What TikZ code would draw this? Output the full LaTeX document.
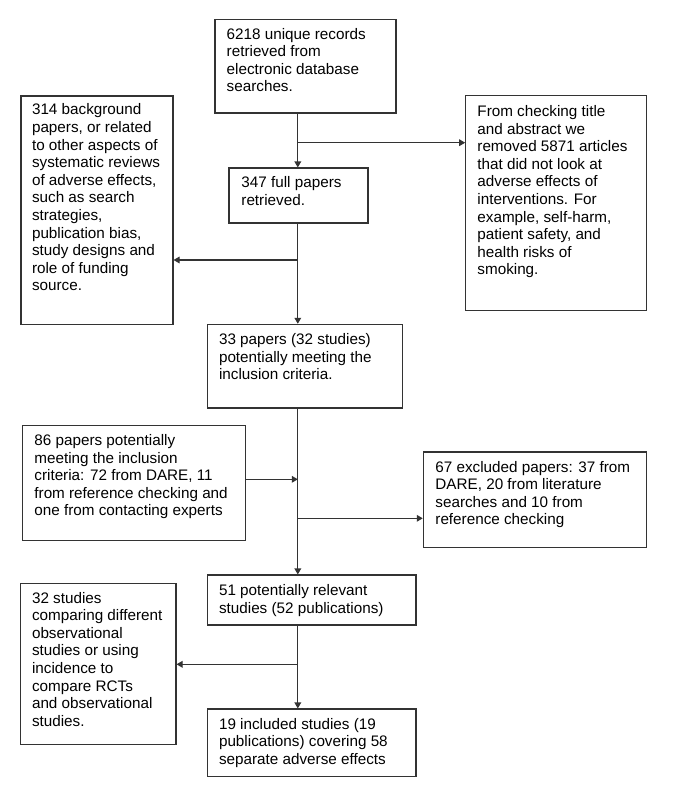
\documentclass[tikz,border=0pt]{standalone}
\usepackage{fontspec}
\setmainfont{Liberation Sans}
\usetikzlibrary{arrows.meta,fit}
\begin{document}
\begin{tikzpicture}[x=0.75pt,y=-0.75pt,
  box/.style={draw=black!80,line width=0.8pt,inner sep=0pt,rectangle},
  txt/.style={anchor=north west,inner sep=0pt,align=left,
    font=\fontsize{11.44pt}{13.2pt}\selectfont},
  link/.style={draw=black!80,line width=0.8pt},
  arr/.style={link,-{Triangle[length=4.5pt,width=5pt]}}]
\useasboundingbox[fill=white] (0,0) rectangle (672,800);
\newcommand{\fs}{\rule{0pt}{9.15pt}}
% boxes
\node[box,fit={(215,19.3) (396,113)}] (A) {};
\node[box,fit={(21,96) (173,324.3)}] (B) {};
\node[box,fit={(465.7,95.7) (646.7,310.7)}] (C) {};
\node[box,fit={(229,168) (368,223)}] (D) {};
\node[box,fit={(207.3,324.3) (402.3,408)}] (E) {};
\node[box,fit={(22.7,425.7) (245.7,540.7)}] (F) {};
\node[box,fit={(423.3,452) (646.7,547.7)}] (G) {};
\node[box,fit={(207.3,575) (416,625)}] (H) {};
\node[box,fit={(20.7,583.3) (176,744.3)}] (I) {};
\node[box,fit={(207.3,709) (416,776.7)}] (J) {};
% texts
\node[txt] (At) at ([shift={(12,7.8)}]A.north west) {\fs 6218 unique records\\retrieved from\\electronic database\\searches.};
\node[txt] (Bt) at ([shift={(11.3,7)}]B.north west) {\fs 314 background\\papers, or related\\to other aspects of\\systematic reviews\\of adverse effects,\\such as search\\strategies,\\publication bias,\\study designs and\\role of funding\\source.};
\node[txt] (Ct) at ([shift={(12,8.8)}]C.north west) {\fs From checking title\\and abstract we\\removed 5871 articles\\that did not look at\\adverse effects of\\interventions. For\\example, self-harm,\\patient safety, and\\health risks of\\smoking.};
\node[txt] (Dt) at ([shift={(12.7,7.8)}]D.north west) {\fs 347 full papers\\retrieved.};
\node[txt] (Et) at ([shift={(12,8.5)}]E.north west) {\fs 33 papers (32 studies)\\potentially meeting the\\inclusion criteria.};
\node[txt] (Ft) at ([shift={(12,7.8)}]F.north west) {\fs 86 papers potentially\\meeting the inclusion\\criteria: 72 from DARE, 11\\from reference checking and\\one from contacting experts};
\node[txt] (Gt) at ([shift={(12.4,8.1)}]G.north west) {\fs 67 excluded papers: 37 from\\DARE, 20 from literature\\searches and 10 from\\reference checking};
\node[txt] (Ht) at ([shift={(12,8.5)}]H.north west) {\fs 51 potentially relevant\\studies (52 publications)};
\node[txt] (It) at ([shift={(11.6,7.8)}]I.north west) {\fs 32 studies\\comparing different\\observational\\studies or using\\incidence to\\compare RCTs\\and observational\\studies.};
\node[txt] (Jt) at ([shift={(12,8.1)}]J.north west) {\fs 19 included studies (19\\publications) covering 58\\separate adverse effects};
% spine and branch points
\coordinate (s) at (297.8,0);
\coordinate (b1) at (297.8,142.7);
\coordinate (b2) at (297.8,260);
\coordinate (b3) at (297.8,479.3);
\coordinate (b4) at (297.8,518.3);
\coordinate (b5) at (297.8,664.3);
% connectors
\draw[arr] (A.south -| s) -- (D.north -| s);
\draw[arr] (b1) -- (b1 -| C.west);
\draw[arr] (D.south -| s) -- (E.north -| s);
\draw[arr] (b2) -- (b2 -| B.east);
\draw[arr] (E.south -| s) -- (H.north -| s);
\draw[arr] (b3 -| F.east) -- (b3);
\draw[arr] (b4) -- (b4 -| G.west);
\draw[arr] (H.south -| s) -- (J.north -| s);
\draw[arr] (b5) -- (b5 -| I.east);
\end{tikzpicture}
\end{document}
